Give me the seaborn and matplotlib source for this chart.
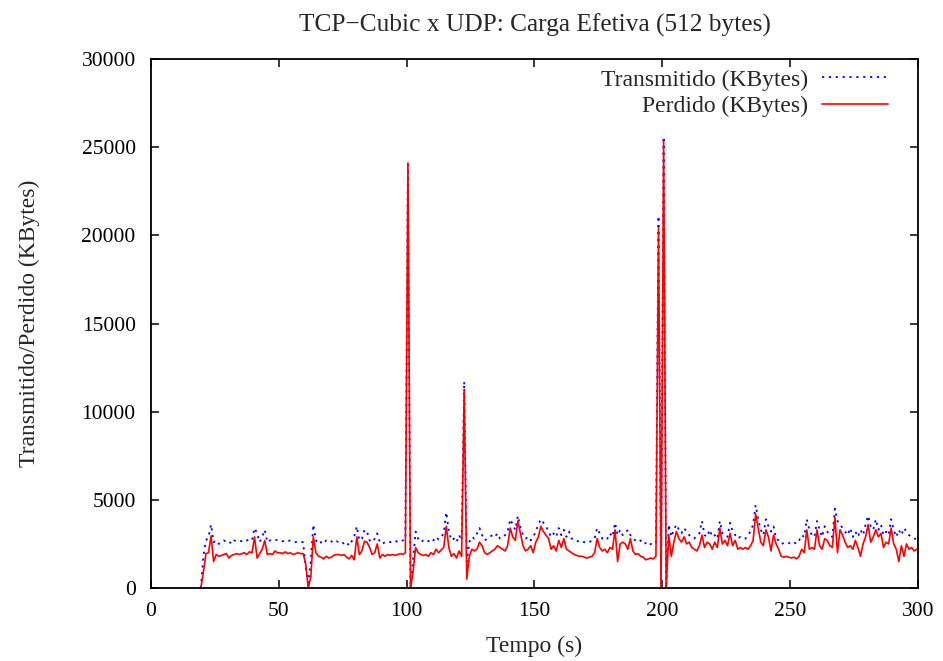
import numpy as np
import pandas as pd
import matplotlib
matplotlib.use("Agg")
import matplotlib.pyplot as plt
import seaborn as sns

# time (s) of first sample; one sample per second
t_start = 19
t_end = 300

transmitido = [
    # 19-28
    0, 1800, 2700, 2900, 3600, 2600, 2700, 2500, 2600, 2700,
    # 29-38
    2600, 2650, 2500, 2700, 2650, 2700, 2650, 2750, 2700, 2750,
    # 39-48
    2700, 3400, 3100, 2600, 2900, 3300, 2600, 2700, 2750, 2700,
    # 49-58
    2750, 2700, 2650, 2700, 2650, 2700, 2650, 2600, 2650, 2600,
    # 59-68
    2600, 1200, 300, 1500, 3600, 2700, 2500, 2600, 2500, 2700,
    # 69-78
    2600, 2650, 2550, 2650, 2600, 2650, 2500, 2600, 2400, 2650,
    # 79-88
    2900, 3500, 2700, 2800, 3300, 3200, 2700, 2600, 2800, 3100,
    # 89-98
    2600, 2500, 2600, 2650, 2600, 2650, 2700, 2600, 2650, 2700,
    # 99-108
    2750, 24000, 0, 1600, 3200, 2800, 2600, 2700, 2750, 2650,
    # 109-118
    2800, 2700, 2900, 2750, 2900, 3100, 4300, 3200, 2700, 2800,
    # 119-128
    2600, 3000, 2700, 11700, 1500, 2600, 2900, 2800, 3100, 3400,
    # 129-138
    3000, 2700, 2800, 2900, 3000, 2900, 3100, 2800, 2900, 3000,
    # 139-148
    3200, 3900, 3600, 3300, 4100, 3400, 3000, 2800, 2900, 2700,
    # 149-158
    2900, 3200, 3600, 3900, 3700, 3500, 3200, 2900, 3100, 2900,
    # 159-168
    3400, 3000, 3300, 2900, 3200, 2800, 2800, 2700, 2600, 2650,
    # 169-178
    2600, 2550, 2600, 2700, 2800, 3400, 3100, 2800, 2900, 2800,
    # 179-188
    3100, 2900, 3700, 3000, 3300, 3000, 3100, 3300, 3000, 2800,
    # 189-198
    2700, 2600, 2700, 2500, 2550, 2400, 2500, 2450, 2600, 21100,
    # 199-208
    0, 25600, 0, 3600, 2900, 3300, 3600, 3300, 3100, 3400,
    # 209-218
    3200, 3000, 2900, 2800, 3000, 3100, 3800, 3000, 2900, 3300,
    # 219-228
    2900, 3000, 2800, 3800, 3100, 3000, 2900, 3700, 3200, 3000,
    # 229-238
    2800, 2900, 2800, 2800, 3000, 3200, 3600, 4700, 3900, 3300,
    # 239-248
    3000, 3900, 3500, 3200, 3500, 2800, 2700, 2500, 2550, 2500,
    # 249-258
    2550, 2500, 2600, 2500, 2700, 3000, 2900, 3900, 3300, 3000,
    # 259-268
    2900, 3800, 3300, 2900, 3500, 3200, 3000, 2900, 4500, 3800,
    # 269-278
    3600, 3400, 3200, 3000, 3400, 2900, 3200, 2900, 3300, 3000,
    # 279-288
    3600, 4100, 3500, 3300, 3900, 3300, 3600, 3000, 3200, 3000,
    # 289-298
    3900, 3300, 2900, 3300, 3000, 3400, 3200, 3000, 2900, 2800,
    # 299-300
    2800, 2800,
]

perdido = [
    # 19-28
    0, 900, 1950, 2000, 2950, 1500, 1900, 1800, 1850, 1900,
    # 29-38
    1950, 1700, 1850, 1900, 1950, 1900, 1950, 2000, 1900, 2050,
    # 39-48
    2000, 2900, 1700, 1950, 2200, 2700, 1900, 1950, 1900, 2100,
    # 49-58
    2000, 2000, 1950, 2050, 1950, 2000, 1900, 1950, 2000, 1950,
    # 59-68
    1950, 1400, 0, 600, 2900, 2000, 1800, 1750, 1650, 1800,
    # 69-78
    1700, 1750, 1850, 1900, 1900, 1850, 1900, 1750, 1650, 1850,
    # 79-88
    1600, 2900, 1900, 2100, 2650, 2600, 2300, 1900, 2000, 2500,
    # 89-98
    1700, 1900, 1800, 1900, 1850, 1900, 1850, 1900, 1950, 1900,
    # 99-108
    2000, 24100, 0, 900, 2300, 2000, 1900, 1850, 1900, 1800,
    # 109-118
    2000, 1900, 2200, 2000, 2150, 2300, 3500, 2300, 1800, 1950,
    # 119-128
    1700, 2100, 1800, 11200, 500, 1800, 2200, 2100, 2200, 2600,
    # 129-138
    2400, 2000, 1900, 2000, 2100, 2200, 2400, 2300, 2200, 2100,
    # 139-148
    2400, 3400, 2900, 2700, 3800, 3100, 2400, 2100, 2200, 2400,
    # 149-158
    2000, 2600, 2900, 3500, 3200, 3000, 2800, 2200, 2400, 2100,
    # 159-168
    2700, 2300, 2800, 2200, 2100, 2000, 1900, 1850, 1800, 1800,
    # 169-178
    1750, 1700, 1750, 1800, 2000, 2800, 2300, 2100, 2200, 2000,
    # 179-188
    2300, 2200, 3300, 1500, 2500, 2600, 2500, 2200, 2800, 2100,
    # 189-198
    1900, 1950, 1800, 1750, 1600, 1650, 1700, 1650, 1800, 20400,
    # 199-208
    0, 25400, 0, 3000, 1800, 2600, 3200, 2800, 2600, 2900,
    # 209-218
    2500, 2600, 2300, 2200, 2100, 2400, 3000, 2300, 2600, 2500,
    # 219-228
    2200, 2600, 2300, 3400, 2500, 2700, 2400, 3100, 2400, 2700,
    # 229-238
    2200, 2300, 2200, 2300, 2200, 2400, 2700, 4200, 3400, 2600,
    # 239-248
    2400, 3300, 2900, 2100, 3000, 2500, 2200, 1800, 1750, 1800,
    # 249-258
    1750, 1700, 1750, 1650, 1800, 2200, 2000, 3300, 2200, 2300,
    # 259-268
    2200, 3300, 2400, 2200, 2800, 2700, 2400, 2300, 4000, 2000,
    # 269-278
    3300, 3000, 2600, 2300, 2400, 2200, 2700, 2300, 1800, 2500,
    # 279-288
    2900, 3600, 2600, 2900, 3300, 2900, 3100, 2300, 2600, 2500,
    # 289-298
    3400, 2500, 2200, 1500, 2400, 1800, 2500, 2200, 2300, 2100,
    # 299-300
    2200, 2300,
]

x_ticks = [0, 50, 100, 150, 200, 250, 300]
y_ticks = [0, 5000, 10000, 15000, 20000, 25000, 30000]

title = "TCP\u2212Cubic x UDP: Carga Efetiva (512 bytes)"
xlabel = "Tempo (s)"
ylabel = "Transmitido/Perdido (KBytes)"
label_t = "Transmitido (KBytes)"
label_p = "Perdido (KBytes)"

n = len(transmitido)
tempo = np.arange(t_start, t_start + n) + 0.5
df = pd.DataFrame({"tempo": tempo, "Transmitido": transmitido, "Perdido": perdido})

sns.set_style("ticks")
plt.rcParams["font.family"] = ["Liberation Serif", "DejaVu Serif"]

fig = plt.figure(figsize=(9.43, 6.61), dpi=100)
ax = fig.add_axes([0.1601, 0.1104, 0.8134, 0.8003])

sns.lineplot(data=df, x="tempo", y="Transmitido", ax=ax, color="#0000ff",
             linewidth=1.3, linestyle=(0, (1.2, 2.6)), label=label_t)
sns.lineplot(data=df, x="tempo", y="Perdido", ax=ax, color="#ff0000",
             linewidth=1.2, label=label_p)

ax.set_xlim(0, 300)
ax.set_ylim(0, 30000)
ax.set_xticks(x_ticks)
ax.set_yticks(y_ticks)
ax.set_xticklabels([str(v) for v in x_ticks])
ax.set_yticklabels([str(v) for v in y_ticks])

ax.tick_params(direction="in", length=5.5, width=1.1, top=True, right=True,
               labelsize=15.5, colors="black")
ax.tick_params(axis="y", pad=11)
ax.tick_params(axis="x", pad=10)
for s in ax.spines.values():
    s.set_linewidth(1.3)
    s.set_color("black")
    s.set_visible(True)

ax.set_xlabel(xlabel, fontsize=17, labelpad=11)
ax.set_ylabel(ylabel, fontsize=17, labelpad=30)
ax.set_title(title, fontsize=18.3, pad=20)

leg = ax.legend(loc="upper right", frameon=False, markerfirst=False,
                fontsize=17, handlelength=2.8, handletextpad=0.6,
                labelspacing=0.22, borderaxespad=0, borderpad=0,
                bbox_to_anchor=(0.961, 0.981))

fig.savefig("out.png", dpi=100)
